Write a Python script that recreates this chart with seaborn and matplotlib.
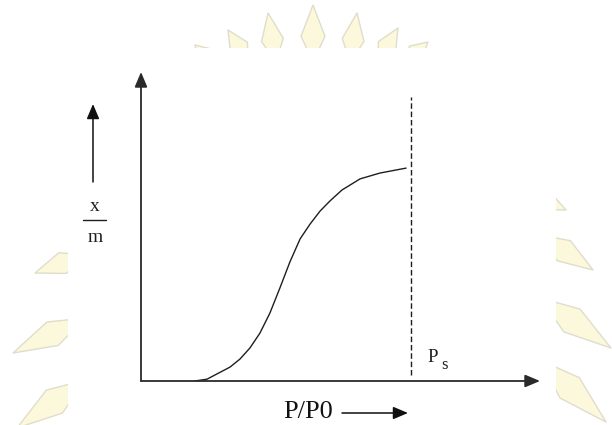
import numpy as np
import matplotlib
matplotlib.use("Agg")
import matplotlib.pyplot as plt
from matplotlib.patches import Polygon, Rectangle
from matplotlib.lines import Line2D
import seaborn as sns

# ---- data ----
p_ratio = [0.200, 0.245, 0.282, 0.330, 0.367, 0.404, 0.441, 0.478, 0.515,
           0.552, 0.590, 0.627, 0.664, 0.701, 0.745, 0.812, 0.886, 0.983]
x_over_m = [0.000, 0.006, 0.023, 0.045, 0.071, 0.107, 0.155, 0.220, 0.301,
            0.385, 0.460, 0.508, 0.550, 0.583, 0.618, 0.654, 0.673, 0.689]
ps_value = 1.0
ps_line_range = [0.019, 0.919]
x_label = "P/P0"
y_num = "x"
y_den = "m"
ps_main = "P"
ps_sub = "s"

sns.set_style("white")
plt.rcParams["font.family"] = ["Liberation Serif", "DejaVu Serif"]

W, H = 612, 425
fig = plt.figure(figsize=(W / 100, H / 100), dpi=100)
fig.patch.set_facecolor("white")

def fx(px):
    return px / W

def fy(py):
    return 1 - py / H

# ---- faint watermark leaves in the margins ----
def leaf(base, tip, w):
    b = np.array(base, float)
    t = np.array(tip, float)
    d = t - b
    n = np.array([-d[1], d[0]]) / np.hypot(*d) * w
    pts = [b, b + 0.45 * d + n, t, b + 0.45 * d - n]
    pts = [(fx(p[0]), fy(p[1])) for p in pts]
    fig.patches.append(Polygon(pts, closed=True, transform=fig.transFigure,
                               facecolor="#fbf8dc", edgecolor="#e0ddcc",
                               linewidth=1.0, zorder=0))
    fig.lines.append(Line2D([fx(b[0]), fx(t[0])], [fy(b[1]), fy(t[1])],
                            transform=fig.transFigure, color="#e6e3d3",
                            linewidth=0.8, zorder=0))

for base, tip, w in [((313, 62), (313, 5), 12), ((276, 62), (268, 13), 11),
                     ((350, 62), (357, 13), 11), ((248, 62), (228, 30), 10),
                     ((378, 62), (398, 28), 10), ((405, 62), (428, 42), 9),
                     ((212, 62), (195, 45), 8),
                     ((85, 255), (35, 273), 11), ((85, 318), (13, 353), 13),
                     ((85, 380), (17, 428), 14),
                     ((540, 198), (566, 210), 7), ((540, 235), (593, 270), 12),
                     ((540, 298), (611, 348), 14), ((540, 360), (606, 422), 14)]:
    leaf(base, tip, w)

fig.patches.append(Rectangle((fx(68), 0), fx(556) - fx(68), fy(48),
                             transform=fig.transFigure, facecolor="white",
                             edgecolor="none", zorder=0.5))

# ---- main axes ----
x0, y0 = 141, 381
x_end, y_end = 540, 72
ps_px = 410.7
ax = fig.add_axes([fx(x0), fy(y0), (x_end - x0) / W, (y0 - y_end) / H])
ax.set_zorder(2)
ax.patch.set_alpha(0)
xmax = (x_end - x0) / (ps_px - x0)
ax.set_xlim(0, xmax)
ax.set_ylim(0, 1)
for s in ax.spines.values():
    s.set_visible(False)
ax.set_xticks([])
ax.set_yticks([])

axis_arrow = dict(arrowstyle="-|>,head_length=0.9,head_width=0.38",
                  color="#2a2a2a", linewidth=1.3, shrinkA=0, shrinkB=0,
                  mutation_scale=10)
ax.annotate("", xy=(xmax, 0), xytext=(0, 0), arrowprops=axis_arrow,
            annotation_clip=False)
ax.annotate("", xy=(0, 1), xytext=(0, 0), arrowprops=axis_arrow,
            annotation_clip=False)

sns.lineplot(x=p_ratio, y=x_over_m, ax=ax, color="#1e1e1e", linewidth=1.0,
             sort=True, estimator=None)
ax.vlines(ps_value, ps_line_range[0], ps_line_range[1], colors="#1e1e1e",
          linestyles=(0, (4, 2)), linewidth=1.0)

# ---- labels ----
fig.text(fx(427), fy(362), ps_main, fontsize=13.5, ha="left", va="baseline",
         color="#1e1e1e", zorder=3)
fig.text(fx(441), fy(369), ps_sub, fontsize=12, ha="left", va="baseline",
         color="#1e1e1e", zorder=3)

fig.text(fx(308), fy(418), x_label, fontsize=19, ha="center", va="baseline",
         color="#111111", zorder=3)
fig.add_artist(matplotlib.patches.FancyArrowPatch(
    (fx(342), fy(413)), (fx(408), fy(413)), transform=fig.transFigure,
    arrowstyle="-|>,head_length=0.9,head_width=0.38", mutation_scale=10,
    color="#111111", linewidth=1.1, shrinkA=0, shrinkB=0, zorder=3))

fig.text(fx(95), fy(211), y_num, fontsize=14, ha="center", va="baseline",
         color="#1e1e1e", zorder=3)
fig.lines.append(Line2D([fx(83), fx(106)], [fy(220), fy(220)],
                        transform=fig.transFigure, color="#1e1e1e",
                        linewidth=1.0, zorder=3))
fig.text(fx(95), fy(242), y_den, fontsize=14, ha="center", va="baseline",
         color="#1e1e1e", zorder=3)
fig.add_artist(matplotlib.patches.FancyArrowPatch(
    (fx(93), fy(182)), (fx(93), fy(104)), transform=fig.transFigure,
    arrowstyle="-|>,head_length=0.9,head_width=0.38", mutation_scale=10,
    color="#111111", linewidth=1.1, shrinkA=0, shrinkB=0, zorder=3))

fig.savefig("out.png", dpi=100)
